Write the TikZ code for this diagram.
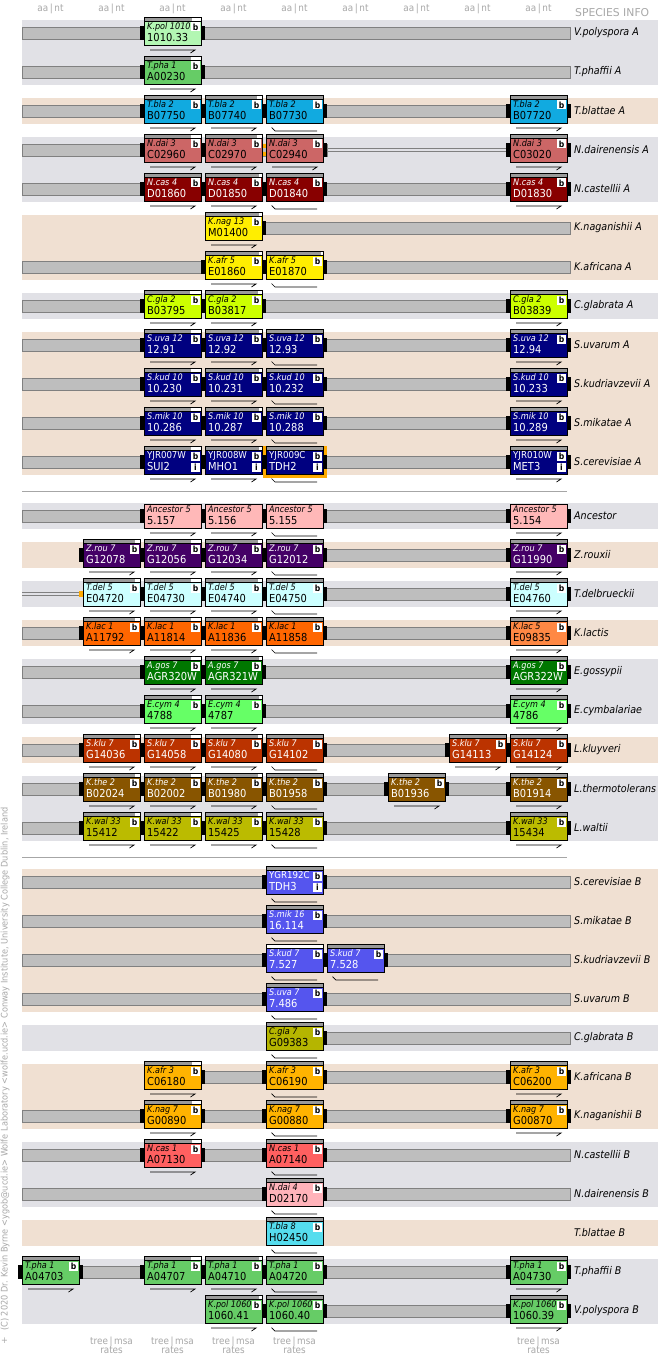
\documentclass[tikz,border=0pt]{standalone}
\usepackage{fontspec}
\setmainfont{DejaVu Sans}
\newfontfamily\condf{DejaVu Sans Condensed}[ItalicFont={DejaVu Sans Condensed Oblique},BoldFont={DejaVu Sans Condensed Bold}]
\usetikzlibrary{positioning,calc}

\definecolor{bandg}{HTML}{E1E1E6}
\definecolor{bandb}{HTML}{F0E0D2}
\definecolor{trkfill}{HTML}{BEBEBE}
\definecolor{trkedge}{HTML}{808080}
\definecolor{stripg}{HTML}{9A9A9A}
\definecolor{hdrgrey}{HTML}{A8A8A8}
\definecolor{hlor}{HTML}{FFAA00}
\definecolor{kpolA}{HTML}{B3F7B3}
\definecolor{tpha}{HTML}{66CC66}
\definecolor{tblaA}{HTML}{11AAE0}
\definecolor{ndaiA}{HTML}{CC6666}
\definecolor{ncasA}{HTML}{880000}
\definecolor{kyel}{HTML}{FFEE00}
\definecolor{cglaA}{HTML}{CCFF00}
\definecolor{sacA}{HTML}{000080}
\definecolor{anc}{HTML}{FFB8B8}
\definecolor{zrou}{HTML}{440066}
\definecolor{tdel}{HTML}{CCFFFF}
\definecolor{klac}{HTML}{FF6600}
\definecolor{klacb}{HTML}{FF8844}
\definecolor{agos}{HTML}{007700}
\definecolor{ecym}{HTML}{66FF66}
\definecolor{sklu}{HTML}{BB3300}
\definecolor{kthe}{HTML}{885500}
\definecolor{kwal}{HTML}{BBBB00}
\definecolor{sacB}{HTML}{5555EE}
\definecolor{cglaB}{HTML}{B5B500}
\definecolor{korB}{HTML}{FFB300}
\definecolor{ncasB}{HTML}{FF6060}
\definecolor{ndaiB}{HTML}{FFB3BA}
\definecolor{tblaB}{HTML}{55DDEE}

\tikzset{
  trackbar/.style={fill=trkfill,draw=trkedge,line width=0.6pt},
  thintrack/.style={draw=trkedge,line width=0.6pt},
  genebox/.style={draw=black,line width=0.8pt,minimum width=57pt,minimum height=24pt,inner sep=0pt},
  topline/.style={font=\condf\fontsize{9}{10}\selectfont,inner sep=0pt,anchor=base west},
  idline/.style={font=\condf\fontsize{11}{12}\selectfont,inner sep=0pt,anchor=base west},
  badge/.style={fill=white,inner sep=0pt,minimum size=9pt,font=\condf\bfseries\fontsize{8.5}{8.5}\selectfont},
  dirmark/.style={line width=0.7pt},
  splabel/.style={font=\condf\itshape\fontsize{10.6}{12}\selectfont,anchor=west,inner sep=0pt},
  colhead/.style={text=hdrgrey,font=\condf\fontsize{9.8}{11}\selectfont,inner sep=0pt},
  sepline/.style={draw=gray!70,line width=0.8pt}
}

\begin{document}
\begin{tikzpicture}[x=1pt,y=-1pt]
  \useasboundingbox (0,0) rectangle (658,1356);
  \fill[white] (0,0) rectangle (658,1356);
  % bands behind the rows
  \foreach \ya/\yb/\bc in {20/85/bandg,98/124/bandb,137/202/bandg,215/280/bandb,293/319/bandg,332/475/bandb,
      503/529/bandg,542/568/bandb,581/607/bandg,620/646/bandb,659/724/bandg,737/763/bandb,776/841/bandg,
      869/1012/bandb,1025/1051/bandg,1064/1129/bandb,1142/1207/bandg,1220/1246/bandb,1259/1324/bandg}
    \fill[fill=\bc] (22,\ya) rectangle (658,\yb);
  % headers and footers
  \foreach \col in {0,...,8}
    \node[colhead] (h\col) at (50.5+61*\col,8.5) {aa\,|\,nt};
  \node[colhead,anchor=west,font=\fontsize{10.8}{12}\selectfont] (spinfo) at (575,12.5) {SPECIES INFO};
  \foreach \col in {1,2,3,4,8} {
    \node[colhead] (f\col) at (50.5+61*\col,1341.5) {tree\,|\,msa};
    \node[colhead,below=0pt of f\col] (r\col) {rates};
  }
  \node[colhead,font=\condf\fontsize{9}{9}\selectfont] (plus) at (4.5,1341) {+};
  \node[colhead,rotate=90,anchor=west,font=\condf\fontsize{9.1}{10}\selectfont] (copy) at (5,1331)
    {(C) 2020 Dr. Kevin Byrne <ygob@ucd.ie> Wolfe Laboratory <wolfe.ucd.ie> Conway Institute, University College Dublin, Ireland};
  % section rules
  \draw[sepline] (22,491.5) -- (567,491.5);
  \draw[sepline] (22,857) -- (567,857);
  % chromosome tracks
  \foreach \yy/\xa/\xb in {33/22/570,72/22/570,111/22/570,150/22/327,150/506/570,189/22/570,228/262/570,267/22/570,
      306/22/570,345/22/570,384/22/570,423/22/570,462/22/570,516/22/570,555/83/570,594/83/570,633/22/570,
      672/22/570,711/22/570,750/22/570,789/22/570,828/22/570,882/22/570,921/22/570,960/22/570,999/22/570,
      1038/323/570,1077/201/570,1116/22/570,1155/22/570,1194/22/570,1272/22/570,1311/262/570}
    \draw[trackbar] (\xa,\yy-6) rectangle (\xb,\yy+6);
  \draw[thintrack] (22,592.5) -- (80,592.5) (22,595.5) -- (80,595.5);
  \draw[thintrack] (327,148.5) -- (506,148.5) (327,151.5) -- (506,151.5);
  \fill[hlor] (79,591) rectangle (83,597);
  \fill[hlor] (262,144) rectangle (266,148) (262,152) rectangle (266,156);
  % highlighted gene
  \fill[hlor] (262.5,445.5) rectangle (326.5,478);
  % genes: y/column/species/id/fill/text/direction/strip/caps/kind
  \foreach \yy/\col/\spc/\gid/\fcol/\txc/\gdir/\frc/\gcap/\gkind in {
      33/2/K.pol 1010/1010.33/kpolA/black/1/0.84/3/0,
      72/2/T.pha 1/A00230/tpha/black/1/0.82/3/0,
      111/2/T.bla 2/B07750/tblaA/black/1/1/3/0, 111/3/T.bla 2/B07740/tblaA/black/1/0.92/3/0,
      111/4/T.bla 2/B07730/tblaA/black/0/1/3/0, 111/8/T.bla 2/B07720/tblaA/black/1/1/3/0,
      150/2/N.dai 3/C02960/ndaiA/black/1/0.82/3/0, 150/3/N.dai 3/C02970/ndaiA/black/1/0.92/1/0,
      150/4/N.dai 3/C02940/ndaiA/black/1/1/2/0, 150/8/N.dai 3/C03020/ndaiA/black/1/1/3/0,
      189/2/N.cas 4/D01860/ncasA/white/1/1/3/0, 189/3/N.cas 4/D01850/ncasA/white/1/0.95/3/0,
      189/4/N.cas 4/D01840/ncasA/white/0/1/3/0, 189/8/N.cas 4/D01830/ncasA/white/1/1/3/0,
      228/3/K.nag 13/M01400/kyel/black/1/0.95/2/0,
      267/3/K.afr 5/E01860/kyel/black/1/0.95/3/0, 267/4/K.afr 5/E01870/kyel/black/0/0.97/3/0,
      306/2/C.gla 2/B03795/cglaA/black/1/0.8/3/0, 306/3/C.gla 2/B03817/cglaA/black/1/0.93/3/0,
      306/8/C.gla 2/B03839/cglaA/black/1/1/3/0,
      345/2/S.uva 12/12.91/sacA/white/1/0.82/3/0, 345/3/S.uva 12/12.92/sacA/white/1/0.95/3/0,
      345/4/S.uva 12/12.93/sacA/white/0/1/3/0, 345/8/S.uva 12/12.94/sacA/white/1/1/3/0,
      384/2/S.kud 10/10.230/sacA/white/1/0.82/3/0, 384/3/S.kud 10/10.231/sacA/white/1/0.95/3/0,
      384/4/S.kud 10/10.232/sacA/white/0/1/3/0, 384/8/S.kud 10/10.233/sacA/white/1/1/3/0,
      423/2/S.mik 10/10.286/sacA/white/1/0.82/3/0, 423/3/S.mik 10/10.287/sacA/white/1/0.95/3/0,
      423/4/S.mik 10/10.288/sacA/white/0/1/3/0, 423/8/S.mik 10/10.289/sacA/white/1/1/3/0,
      462/2/YJR007W/SUI2/sacA/white/1/0.82/3/1, 462/3/YJR008W/MHO1/sacA/white/1/0.95/3/1,
      462/4/YJR009C/TDH2/sacA/white/0/1/3/1, 462/8/YJR010W/MET3/sacA/white/1/1/3/1,
      516/2/Ancestor 5/5.157/anc/black/1/1/3/2, 516/3/Ancestor 5/5.156/anc/black/1/1/3/2,
      516/4/Ancestor 5/5.155/anc/black/0/1/3/2, 516/8/Ancestor 5/5.154/anc/black/1/1/3/2,
      555/1/Z.rou 7/G12078/zrou/white/1/0.92/3/0, 555/2/Z.rou 7/G12056/zrou/white/1/0.82/3/0,
      555/3/Z.rou 7/G12034/zrou/white/1/0.93/3/0, 555/4/Z.rou 7/G12012/zrou/white/0/1/3/0,
      555/8/Z.rou 7/G11990/zrou/white/1/1/3/0,
      594/1/T.del 5/E04720/tdel/black/1/0.92/2/0, 594/2/T.del 5/E04730/tdel/black/1/0.82/3/0,
      594/3/T.del 5/E04740/tdel/black/1/0.93/3/0, 594/4/T.del 5/E04750/tdel/black/0/1/3/0,
      594/8/T.del 5/E04760/tdel/black/1/1/3/0,
      633/1/K.lac 1/A11792/klac/black/1/0.92/3/0, 633/2/K.lac 1/A11814/klac/black/1/0.82/3/0,
      633/3/K.lac 1/A11836/klac/black/1/0.93/3/0, 633/4/K.lac 1/A11858/klac/black/0/1/3/0,
      633/8/K.lac 5/E09835/klacb/black/1/1/3/0,
      672/2/A.gos 7/AGR320W/agos/white/1/0.82/3/0, 672/3/A.gos 7/AGR321W/agos/white/1/0.95/3/0,
      672/8/A.gos 7/AGR322W/agos/white/1/1/3/0,
      711/2/E.cym 4/4788/ecym/black/1/0.85/3/0, 711/3/E.cym 4/4787/ecym/black/1/0.95/3/0,
      711/8/E.cym 4/4786/ecym/black/1/1/3/0,
      750/1/S.klu 7/G14036/sklu/white/1/0.92/3/0, 750/2/S.klu 7/G14058/sklu/white/1/0.82/3/0,
      750/3/S.klu 7/G14080/sklu/white/1/0.93/3/0, 750/4/S.klu 7/G14102/sklu/white/0/1/3/0,
      750/7/S.klu 7/G14113/sklu/white/1/1/3/0, 750/8/S.klu 7/G14124/sklu/white/1/1/3/0,
      789/1/K.the 2/B02024/kthe/white/1/0.92/3/0, 789/2/K.the 2/B02002/kthe/white/1/0.82/3/0,
      789/3/K.the 2/B01980/kthe/white/1/0.93/3/0, 789/4/K.the 2/B01958/kthe/white/0/1/3/0,
      789/6/K.the 2/B01936/kthe/white/1/1/3/0, 789/8/K.the 2/B01914/kthe/white/1/1/3/0,
      828/1/K.wal 33/15412/kwal/black/1/0.92/3/0, 828/2/K.wal 33/15422/kwal/black/1/0.82/3/0,
      828/3/K.wal 33/15425/kwal/black/1/0.93/3/0, 828/4/K.wal 33/15428/kwal/black/0/1/3/0,
      828/8/K.wal 33/15434/kwal/black/1/1/3/0,
      882/4/YGR192C/TDH3/sacB/white/0/1/3/1,
      921/4/S.mik 16/16.114/sacB/white/0/1/3/0,
      960/4/S.kud 7/7.527/sacB/white/0/0/3/0, 960/5/S.kud 7/7.528/sacB/white/0/1/3/0,
      999/4/S.uva 7/7.486/sacB/white/0/1/3/0,
      1038/4/C.gla 7/G09383/cglaB/black/0/1/2/0,
      1077/2/K.afr 3/C06180/korB/black/1/0.85/2/0, 1077/4/K.afr 3/C06190/korB/black/0/1/3/0,
      1077/8/K.afr 3/C06200/korB/black/1/1/3/0,
      1116/2/K.nag 7/G00890/korB/black/1/0.85/3/0, 1116/4/K.nag 7/G00880/korB/black/0/1/3/0,
      1116/8/K.nag 7/G00870/korB/black/1/1/3/0,
      1155/2/N.cas 1/A07130/ncasB/black/1/0.85/3/0, 1155/4/N.cas 1/A07140/ncasB/black/0/1/3/0,
      1194/4/N.dai 4/D02170/ndaiB/black/0/1/3/0,
      1233/4/T.bla 8/H02450/tblaB/black/0/1/0/0,
      1272/0/T.pha 1/A04703/tpha/black/1/1/3/0, 1272/2/T.pha 1/A04707/tpha/black/1/0.82/3/0,
      1272/3/T.pha 1/A04710/tpha/black/1/0.95/3/0, 1272/4/T.pha 1/A04720/tpha/black/0/1/3/0,
      1272/8/T.pha 1/A04730/tpha/black/1/1/3/0,
      1311/3/K.pol 1060/1060.41/tpha/black/1/0.95/2/0, 1311/4/K.pol 1060/1060.40/tpha/black/0/1/3/0,
      1311/8/K.pol 1060/1060.39/tpha/black/1/1/3/0} {
    \pgfmathsetmacro\xl{22+61*\col}
    \ifnum\gkind=2 \else
      \fill[white] (\xl,\yy-15.5) rectangle (\xl+57,\yy-12);
      \fill[stripg] (\xl,\yy-15.5) rectangle (\xl+57*\frc,\yy-12);
      \draw[line width=0.6pt] (\xl,\yy-15.5) rectangle (\xl+57,\yy-12);
    \fi
    \ifodd\gcap \fill (\xl-4,\yy-7) rectangle (\xl,\yy+7); \fi
    \ifnum\gcap>1 \fill (\xl+57,\yy-7) rectangle (\xl+61,\yy+7); \fi
    \node[genebox,fill=\fcol] (g\yy-\col) at (\xl+28.5,\yy) {};
    \ifnum\gkind=1
      \node[topline,text=\txc,font=\condf\fontsize{9.6}{10}\selectfont] (g\yy-\col-sp) at (\xl+3,\yy-3.8) {\spc};
      \node[badge] (g\yy-\col-i) at (\xl+51.5,\yy+5) {i};
    \else
      \node[topline,text=\txc,font=\condf\itshape\fontsize{9}{10}\selectfont] (g\yy-\col-sp) at (\xl+3,\yy-3.2) {\spc};
    \fi
    \node[idline,text=\txc] (g\yy-\col-id) at (\xl+3,\yy+8.8) {\gid};
    \ifnum\gkind=2 \else \node[badge] (g\yy-\col-b) at (\xl+51.5,\yy-6) {b}; \fi
    \ifnum\gdir=1
      \draw[dirmark] (\xl+6,\yy+17) -- (\xl+51,\yy+17) -- ++(-4.5,3);
    \else
      \draw[dirmark] (\xl+51,\yy+20) -- (\xl+9,\yy+20) -- ++(-3.5,-3.5);
    \fi
  }
  % species names
  \foreach \yy/\nm in {33/V.polyspora A,72/T.phaffii A,111/T.blattae A,150/N.dairenensis A,189/N.castellii A,
      228/K.naganishii A,267/K.africana A,306/C.glabrata A,345/S.uvarum A,384/S.kudriavzevii A,423/S.mikatae A,
      462/S.cerevisiae A,516/Ancestor,555/Z.rouxii,594/T.delbrueckii,633/K.lactis,672/E.gossypii,
      711/E.cymbalariae,750/L.kluyveri,789/L.thermotolerans,828/L.waltii,882/S.cerevisiae B,921/S.mikatae B,
      960/S.kudriavzevii B,999/S.uvarum B,1038/C.glabrata B,1077/K.africana B,1116/K.naganishii B,
      1155/N.castellii B,1194/N.dairenensis B,1233/T.blattae B,1272/T.phaffii B,1311/V.polyspora B}
    \node[splabel] (sp\yy) at (574,\yy) {\nm};
\end{tikzpicture}
\end{document}
